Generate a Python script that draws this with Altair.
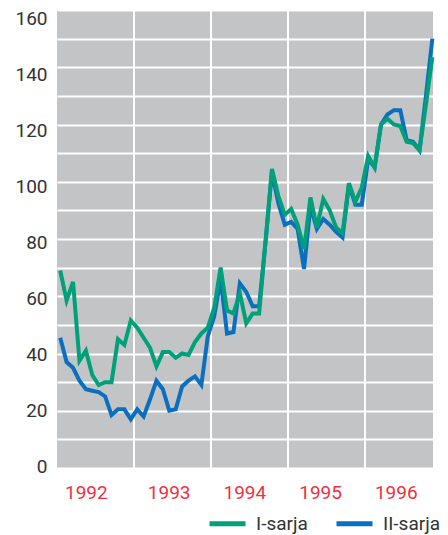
import altair as alt
import pandas as pd

years = ["1992", "1993", "1994", "1995", "1996"]
series_names = ["I-sarja", "II-sarja"]
series_colors = ["#00a07a", "#0a6fbf"]

i_sarja = [
    69, 58.5, 65, 37.5, 41, 32.5, 29, 30, 30, 45, 43, 51.5,
    49, 45.5, 42, 35.5, 40.5, 40.5, 38.5, 40, 39.5, 44, 47, 49,
    56, 70, 55, 54, 61, 50.5, 54, 54, 79, 104.5, 95, 88.5,
    90.5, 85, 76.5, 94.5, 84, 94, 90, 84, 82, 99.5, 93, 98,
    109, 105, 120, 122, 120, 119.5, 114, 113.5, 111, 127, 143.5,
]
ii_sarja = [
    45.5, 37, 35, 30.5, 27.5, 27, 26.5, 25, 18.5, 20.5, 20.5, 17,
    20.5, 18, 24, 30.5, 27.5, 20, 20.5, 28.5, 30.5, 32, 29, 46,
    53, 66, 47, 47.5, 64.5, 61.5, 56.5, 56.5, 79, 103.5, 92.5, 85,
    86, 83.5, 69.5, 91.5, 83.5, 87, 85, 82.5, 80.5, 99, 92, 92,
    108, 105, 120, 123.5, 125, 125, 114.5, 114, 111, 130, 150,
]
y_ticks = list(range(0, 161, 10))
year_boundaries = [12, 24, 36, 48]
year_label_pos = [4.5, 17.4, 29.2, 41, 52.8]

rows = []
for i, (a, b) in enumerate(zip(i_sarja, ii_sarja)):
    rows.append({"t": i + 0.5, "v": a, "s": series_names[0]})
    rows.append({"t": i + 0.5, "v": b, "s": series_names[1]})
df = pd.DataFrame(rows)
bounds = pd.DataFrame({"t": year_boundaries})

FONT = "Roboto"
FS = 19
x_scale = alt.Scale(domain=[0, 58.6], nice=False, zero=False)
y_scale = alt.Scale(domain=[0, 160], nice=False)

x_axis = alt.Axis(
    values=year_label_pos,
    labelExpr="'' + (1992 + floor(datum.value / 12))",
    grid=False, ticks=False, domain=False, title=None,
    labelColor="#ee3140", labelFont=FONT, labelFontSize=FS,
    labelBaseline="alphabetic", labelPadding=30, labelAlign="center",
)
y_axis = alt.Axis(
    values=y_ticks,
    labelExpr="datum.value % 20 == 0 ? datum.label : ''",
    grid=True, gridColor="white", gridWidth=2, gridOpacity=1,
    ticks=False, domain=False, title=None,
    labelColor="#333333", labelFont=FONT, labelFontSize=FS,
    labelPadding=10, labelBaseline="middle",
    labelOffset=alt.ExprRef("datum.value * 0.0625 - 2"),
)

color = alt.Color(
    "s:N",
    scale=alt.Scale(domain=series_names, range=series_colors),
    legend=alt.Legend(
        orient="none", legendX=150, legendY=493, direction="horizontal",
        title=None, symbolType="stroke", symbolSize=1296, symbolStrokeWidth=5,
        labelFont=FONT, labelFontSize=FS, labelColor="#333333",
        labelOffset=8, columnPadding=18,
    ),
)

rules = alt.Chart(bounds).mark_rule(color="white", strokeWidth=2).encode(
    x=alt.X("t:Q", scale=x_scale, axis=x_axis),
)

base = alt.Chart(df)
blue = base.transform_filter(alt.datum.s == series_names[1]).mark_line(
    strokeWidth=4, strokeJoin="miter"
).encode(
    x=alt.X("t:Q", scale=x_scale, axis=x_axis),
    y=alt.Y("v:Q", scale=y_scale, axis=y_axis),
    color=color,
)
green = base.transform_filter(alt.datum.s == series_names[0]).mark_line(
    strokeWidth=4, strokeJoin="miter"
).encode(
    x=alt.X("t:Q", scale=x_scale, axis=x_axis),
    y=alt.Y("v:Q", scale=y_scale, axis=y_axis),
    color=color,
)

chart = alt.layer(rules, blue, green).properties(
    width=376, height=458,
    autosize="none",
    padding={"left": 49, "top": 2, "right": 7, "bottom": 67},
    background="white",
).configure_view(fill="#c3c4c6", stroke=None)

chart.save("out.html", embed_options={"renderer": "svg", "actions": False})
